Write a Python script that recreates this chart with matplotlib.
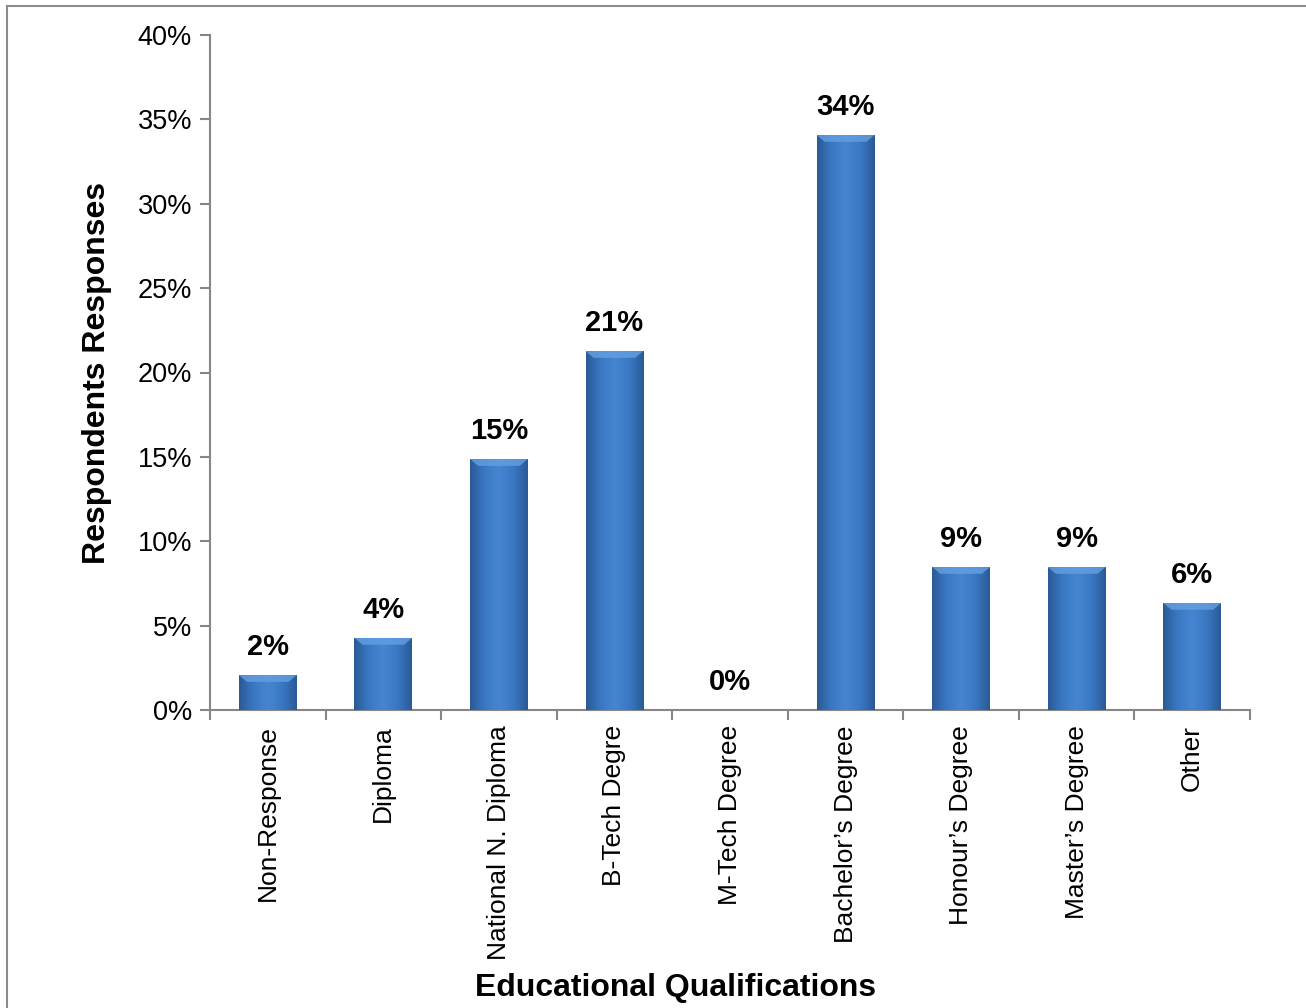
import numpy as np
import matplotlib
matplotlib.use("Agg")
import matplotlib.pyplot as plt
import matplotlib.patches as mpatches
from matplotlib.colors import LinearSegmentedColormap

plt.rcParams['font.family'] = ['Liberation Sans', 'DejaVu Sans']

CATEGORIES = ['Non-Response', 'Diploma', 'National N. Diploma', 'B-Tech Degre',
              'M-Tech Degree', 'Bachelor\u2019s Degree', 'Honour\u2019s Degree',
              'Master\u2019s Degree', 'Other']
VALUES = [2.07, 4.27, 14.87, 21.27, 0.0, 34.07, 8.47, 8.47, 6.34]
LABELS = ['2%', '4%', '15%', '21%', '0%', '34%', '9%', '9%', '6%']

fw, fh = 13.06, 10.08
fig = plt.figure(figsize=(fw, fh), dpi=100)
W, H = 1306, 1008
ax = fig.add_axes([210/W, 1-710/H, 1040/W, 675/H])

# figure border (left/top visible only)
fig.patches.append(mpatches.Rectangle((7/W, -0.1), 1.2, 1-6/H+0.1, fill=False,
                                      ec='#8c8c8c', lw=1.5,
                                      transform=fig.transFigure))

xpos = np.arange(len(CATEGORIES))
bars = ax.bar(xpos, VALUES, width=0.5, color='#3a76c0', zorder=2)

# gradient fill for a beveled look
cmap = LinearSegmentedColormap.from_list(
    'bev', ['#2a5a96', '#3a78c3', '#4686d0', '#3a78c3', '#2a5a96'])
grad = np.linspace(0, 1, 256).reshape(1, -1)
for b in bars:
    h = b.get_height()
    if h <= 0:
        continue
    x0 = b.get_x()
    w = b.get_width()
    im = ax.imshow(grad, cmap=cmap, aspect='auto', zorder=3,
                   extent=[x0, x0 + w, 0, h], interpolation='bicubic')
    im.set_clip_path(b)
    # lighter top bevel
    bev = min(0.4, h * 0.3)
    ax.add_patch(mpatches.Polygon(
        [[x0, h], [x0 + w, h], [x0 + w - 0.07, h - bev], [x0 + 0.07, h - bev]],
        closed=True, fc='#64a0e2', ec='none', alpha=0.8, zorder=4))

for x, v, lab in zip(xpos, VALUES, LABELS):
    ax.text(x, v + 0.85, lab, ha='center', va='bottom', fontsize=21,
            fontweight='bold')

ax.set_xlim(-0.5, len(CATEGORIES) - 0.5)
ax.set_ylim(0, 40)
ax.set_yticks(np.arange(0, 41, 5))
ax.set_yticklabels(['%d%%' % t for t in range(0, 41, 5)], fontsize=19.5)
ax.set_xticks(np.arange(-0.5, len(CATEGORIES)), minor=False)
ax.set_xticklabels([])
ax.set_xticks(xpos, minor=True)
ax.set_xticklabels(CATEGORIES, minor=True, rotation=90, fontsize=19,
                   va='top', ha='center')
ax.tick_params(axis='x', which='minor', length=0, pad=11)
ax.tick_params(axis='x', which='major', length=7, color='#868686', width=1.5)
ax.tick_params(axis='y', length=7, color='#868686', width=1.5, pad=6)

for s in ['top', 'right']:
    ax.spines[s].set_visible(False)
for s in ['left', 'bottom']:
    ax.spines[s].set_color('#868686')
    ax.spines[s].set_linewidth(1.5)

ax.set_ylabel('Respondents Responses', fontsize=23, fontweight='bold',
              labelpad=18)
fig.text(676/W, 1-988/H, 'Educational Qualifications', ha='center',
         va='center', fontsize=23, fontweight='bold')

fig.savefig('out.png', dpi=100)
